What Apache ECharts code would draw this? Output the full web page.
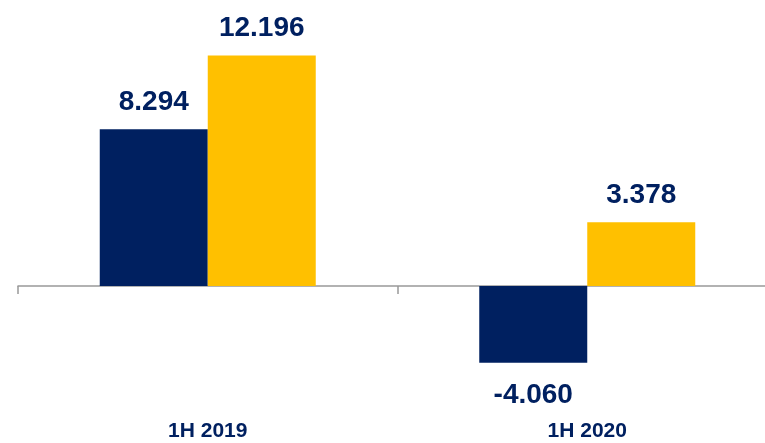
<!DOCTYPE html>
<html>
<head>
<meta charset="utf-8">
<script src="https://cdn.jsdelivr.net/npm/echarts@6/dist/echarts.min.js"></script>
<style>html,body{margin:0;padding:0;background:#fff}#c{width:765px;height:443px}</style>
</head>
<body>
<div id="c"></div>
<script>
var categories = ['1H 2019', '1H 2020'];
var seriesA = [8.294, -4.060];
var seriesB = [12.196, 3.378];
var NAVY = '#002060', GOLD = '#FFC000';

function mk(vals) {
  return vals.map(function (v) {
    return { value: v, label: v < 0 ? { position: 'bottom', distance: 19 } : { position: 'top', distance: 13 } };
  });
}
var labelCfg = {
  show: true,
  color: NAVY,
  fontFamily: '"Liberation Sans Narrow", "Arial Narrow", "Liberation Sans", Arial, sans-serif',
  fontWeight: 'bold',
  fontSize: 28,
  formatter: function (p) { return p.value.toFixed(3); }
};
var chart = echarts.init(document.getElementById('c'));
chart.setOption({
  animation: false,
  grid: { left: 18, top: 2.5, width: 759, height: 396.9, outerBoundsMode: 'none', containLabel: false },
  xAxis: {
    type: 'category',
    data: categories,
    axisLine: { onZero: true, lineStyle: { color: '#999', width: 1.5 } },
    axisTick: { show: true, length: 8, lineStyle: { color: '#999', width: 1.5 } },
    axisLabel: {
      margin: 21,
      color: NAVY,
      fontFamily: '"Liberation Sans", Arial, sans-serif',
      fontWeight: 'bold',
      fontSize: 21
    }
  },
  yAxis: { type: 'value', min: -6, max: 15, show: false, splitLine: { show: false } },
  series: [
    { type: 'bar', data: mk(seriesA), barWidth: 108, barGap: '0%', itemStyle: { color: NAVY }, label: labelCfg },
    { type: 'bar', data: mk(seriesB), barWidth: 108, barGap: '0%', itemStyle: { color: GOLD }, label: labelCfg }
  ]
});
</script>
</body>
</html>
